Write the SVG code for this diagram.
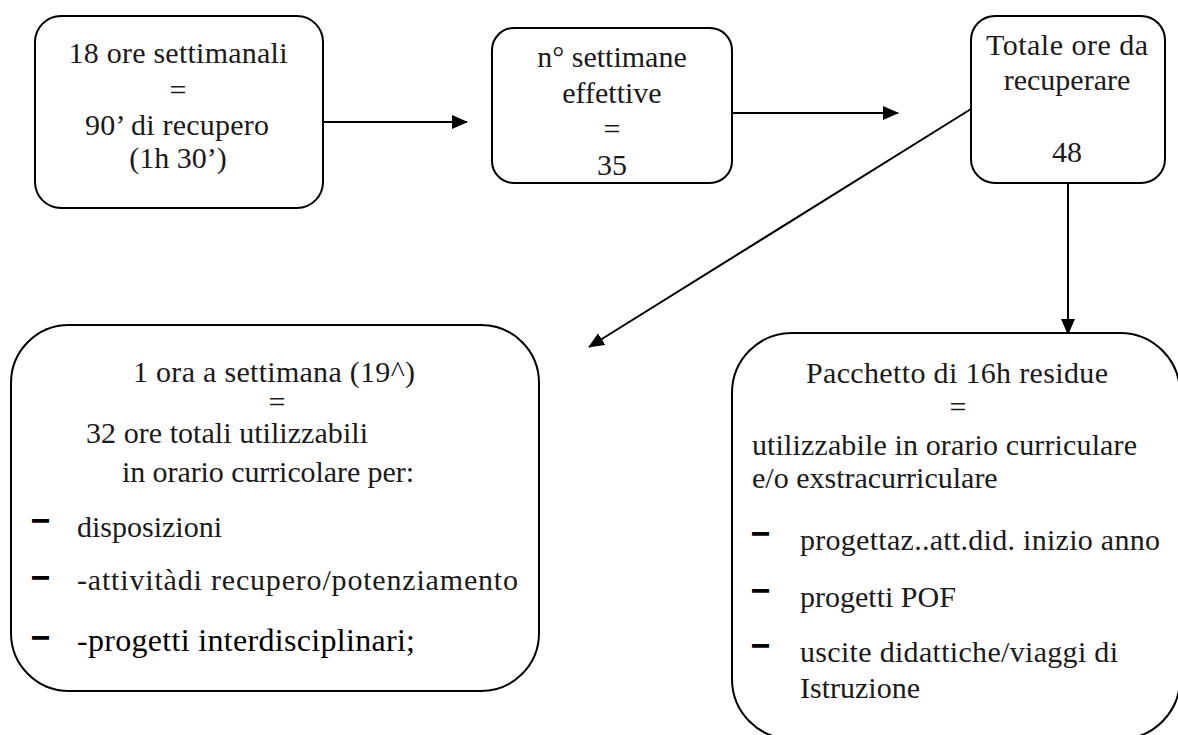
<svg xmlns="http://www.w3.org/2000/svg" width="1178" height="735" viewBox="0 0 1178 735">
<style>
.box{fill:#fff;stroke:#000;stroke-width:2}
.t{font-size:30px;fill:#1a1a1a}
.c{text-anchor:middle}
.d{font-size:30px;font-weight:bold;fill:#000;stroke:#000;stroke-width:1.6}
.ln{stroke:#000;stroke-width:2;fill:none}
</style>
<defs>
<marker id="ah" viewBox="0 0 16 14" refX="15" refY="7" markerWidth="16" markerHeight="14" markerUnits="userSpaceOnUse" orient="auto">
<path d="M0,0 L16,7 L0,14 z" fill="#000"/>
</marker>
</defs>
<rect width="1178" height="735" fill="#fff"/>
<g id="connectors">
<line class="ln" x1="323" y1="122" x2="467" y2="122" marker-end="url(#ah)"/>
<line class="ln" x1="732" y1="113" x2="898" y2="113" marker-end="url(#ah)"/>
<line class="ln" x1="971" y1="109" x2="589" y2="347" marker-end="url(#ah)"/>
<line class="ln" x1="1068" y1="183" x2="1068" y2="334" marker-end="url(#ah)"/>
</g>
<g font-family="Liberation Serif, DejaVu Serif, serif">
<g id="node1">
<rect class="box" x="35" y="16" width="288" height="192" rx="26"/>
<text class="t c" x="178" y="63" textLength="219">18 ore settimanali</text>
<text class="t c" x="178" y="100">=</text>
<text class="t c" x="177" y="135" textLength="184">90’ di recupero</text>
<text class="t c" x="178" y="168">(1h 30’)</text>
</g>
<g id="node2">
<rect class="box" x="492" y="28" width="240" height="155" rx="22"/>
<text class="t c" x="612" y="67">n° settimane</text>
<text class="t c" x="612" y="103">effettive</text>
<text class="t c" x="612" y="139">=</text>
<text class="t c" x="612" y="175">35</text>
</g>
<g id="node3">
<rect class="box" x="971" y="16" width="194" height="167" rx="24"/>
<text class="t c" x="1067" y="55" textLength="162">Totale ore da</text>
<text class="t c" x="1067" y="90">recuperare</text>
<text class="t c" x="1067" y="162">48</text>
</g>
<g id="node4">
<rect class="box" x="11" y="325" width="528" height="366" rx="58"/>
<text class="t" x="133" y="382" textLength="282">1 ora a settimana (19^)</text>
<text class="t c" x="277" y="412">=</text>
<text class="t" x="86" y="443" textLength="282">32 ore totali utilizzabili</text>
<text class="t" x="122" y="482" textLength="292">in orario curricolare per:</text>
<text class="d" x="33" y="528">–</text>
<text class="t" x="77" y="537">disposizioni</text>
<text class="d" x="33" y="585">–</text>
<text class="t" x="77" y="590" textLength="441">-attivitàdi recupero/potenziamento</text>
<text class="d" x="33" y="645">–</text>
<text class="t" x="77" y="651" style="fill:#000;font-size:32px" textLength="338">-progetti interdisciplinari;</text>
</g>
<g id="node5">
<rect class="box" x="732" y="333" width="448" height="406" rx="60"/>
<text class="t c" x="957" y="383" textLength="302">Pacchetto di 16h residue</text>
<text class="t c" x="958" y="417">=</text>
<text class="t" x="752" y="455" textLength="385">utilizzabile in orario curriculare</text>
<text class="t" x="752" y="488">e/o exstracurriculare</text>
<text class="d" x="753" y="541">–</text>
<text class="t" x="800" y="550" textLength="360">progettaz..att.did. inizio anno</text>
<text class="d" x="753" y="598">–</text>
<text class="t" x="800" y="607">progetti POF</text>
<text class="d" x="753" y="653">–</text>
<text class="t" x="800" y="662" textLength="318">uscite didattiche/viaggi di</text>
<text class="t" x="800" y="698">Istruzione</text>
</g>
</g>
</svg>
